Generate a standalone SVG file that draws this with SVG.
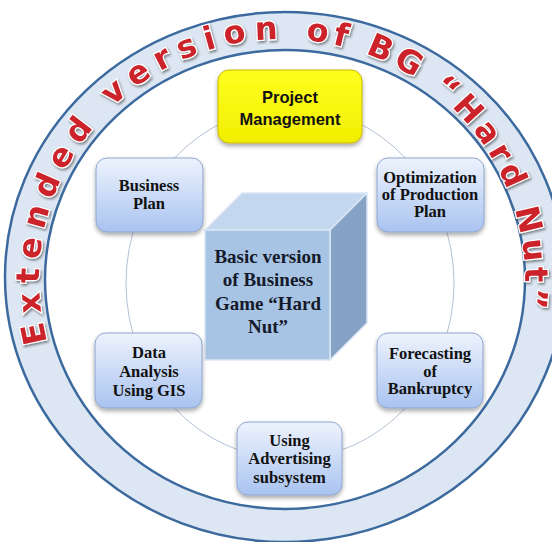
<svg xmlns="http://www.w3.org/2000/svg" width="552" height="542" viewBox="0 0 552 542">
<defs>
  <linearGradient id="gBlue" x1="0" y1="0" x2="0" y2="1">
    <stop offset="0" stop-color="#eef3fd"/>
    <stop offset="1" stop-color="#a9c3f0"/>
  </linearGradient>
  <linearGradient id="gYellow" x1="0" y1="0" x2="0" y2="1">
    <stop offset="0" stop-color="#ffff20"/>
    <stop offset="1" stop-color="#f2ee00"/>
  </linearGradient>
  <filter id="shadow" x="-20%" y="-20%" width="140%" height="150%">
    <feDropShadow dx="0" dy="2.5" stdDeviation="2" flood-color="#000" flood-opacity="0.35"/>
  </filter>
  <filter id="tshadow" x="-10%" y="-10%" width="120%" height="120%">
    <feDropShadow dx="1.2" dy="1.8" stdDeviation="1.2" flood-color="#333" flood-opacity="0.55"/>
  </filter>
  <path id="arcPath" d="M 47.5 341.9 A 243 240 0 1 1 516.7 341.1"/>
</defs>
<style>
  .box { stroke: #8ea6d0; stroke-width: 1; filter: url(#shadow); }
  .pm { stroke: #c9b800; stroke-width: 1; filter: url(#shadow); }
  .lbl { font-family: "Liberation Serif", "Times New Roman", serif; font-weight: bold; font-size: 16.5px; fill: #111; text-anchor: middle; }
  .pml { font-family: "Liberation Sans", Arial, sans-serif; font-weight: bold; font-size: 16.5px; fill: #111; text-anchor: middle; }
  .cube { font-family: "Liberation Serif", "Times New Roman", serif; font-weight: bold; font-size: 19px; fill: #151a2a; text-anchor: middle; }
  .ring { font-family: "DejaVu Sans", Verdana, sans-serif; font-weight: bold; font-size: 32px; fill: #cc2229; stroke: #ffffff; stroke-width: 2.5; paint-order: stroke; filter: url(#tshadow); }
  .conn { fill: none; stroke: #b4c2d6; stroke-width: 1; }
</style>
<rect x="0" y="0" width="552" height="542" fill="#ffffff"/>

<g id="ring">
  <ellipse cx="285" cy="277" rx="280" ry="265" fill="#dde7f3" stroke="#3c6a9e" stroke-width="2.5"/>
  <ellipse cx="285" cy="279.5" rx="240" ry="229.5" fill="#ffffff" stroke="#3c6a9e" stroke-width="2.5"/>
  <text class="ring"><textPath href="#arcPath"><tspan letter-spacing="8.3">Extended version </tspan><tspan letter-spacing="4.7">of BG “Hard Nut”</tspan></textPath></text>
</g>

<g id="connectors">
  <ellipse class="conn" cx="290" cy="283" rx="164" ry="176"/>
</g>

<g id="cube">
  <polygon points="205,230 242,193 367,193 330,230" fill="#c3d7ee" stroke="#dbe7f5" stroke-width="1.5"/>
  <polygon points="330,230 367,193 367,323 330,360" fill="#86a3c6" stroke="#dbe7f5" stroke-width="1.5"/>
  <rect x="205" y="230" width="125" height="130" fill="#a7c4e5" stroke="#dbe7f5" stroke-width="1.5"/>
  <text class="cube" x="268" y="262.5">Basic version</text>
  <text class="cube" x="268" y="285.5">of Business</text>
  <text class="cube" x="268" y="309.5">Game “Hard</text>
  <text class="cube" x="268" y="332.5">Nut”</text>
</g>

<g id="project-management">
  <rect class="pm" x="218" y="70" width="144" height="73" rx="11" fill="url(#gYellow)"/>
  <text class="pml" x="290" y="103">Project</text>
  <text class="pml" x="290" y="125">Management</text>
</g>

<g id="business-plan">
  <rect class="box" x="96" y="158" width="107" height="74" rx="11" fill="url(#gBlue)"/>
  <text class="lbl" x="149" y="190.5">Business</text>
  <text class="lbl" x="149" y="208.5">Plan</text>
</g>

<g id="optimization">
  <rect class="box" x="377" y="158" width="107" height="74" rx="11" fill="url(#gBlue)"/>
  <text class="lbl" x="430" y="182.5">Optimization</text>
  <text class="lbl" x="430" y="199.5">of Production</text>
  <text class="lbl" x="430" y="216.5">Plan</text>
</g>

<g id="data-analysis">
  <rect class="box" x="95" y="333" width="107" height="75" rx="11" fill="url(#gBlue)"/>
  <text class="lbl" x="149" y="357.5">Data</text>
  <text class="lbl" x="149" y="376.5">Analysis</text>
  <text class="lbl" x="149" y="395.5">Using GIS</text>
</g>

<g id="forecasting">
  <rect class="box" x="377" y="333" width="106" height="75" rx="11" fill="url(#gBlue)"/>
  <text class="lbl" x="430" y="358.5">Forecasting</text>
  <text class="lbl" x="430" y="376.5">of</text>
  <text class="lbl" x="430" y="393.5">Bankruptcy</text>
</g>

<g id="advertising">
  <rect class="box" x="237" y="422" width="105" height="73" rx="11" fill="url(#gBlue)"/>
  <text class="lbl" x="289.5" y="445.5">Using</text>
  <text class="lbl" x="289.5" y="463.5">Advertising</text>
  <text class="lbl" x="289.5" y="482.5">subsystem</text>
</g>
</svg>
